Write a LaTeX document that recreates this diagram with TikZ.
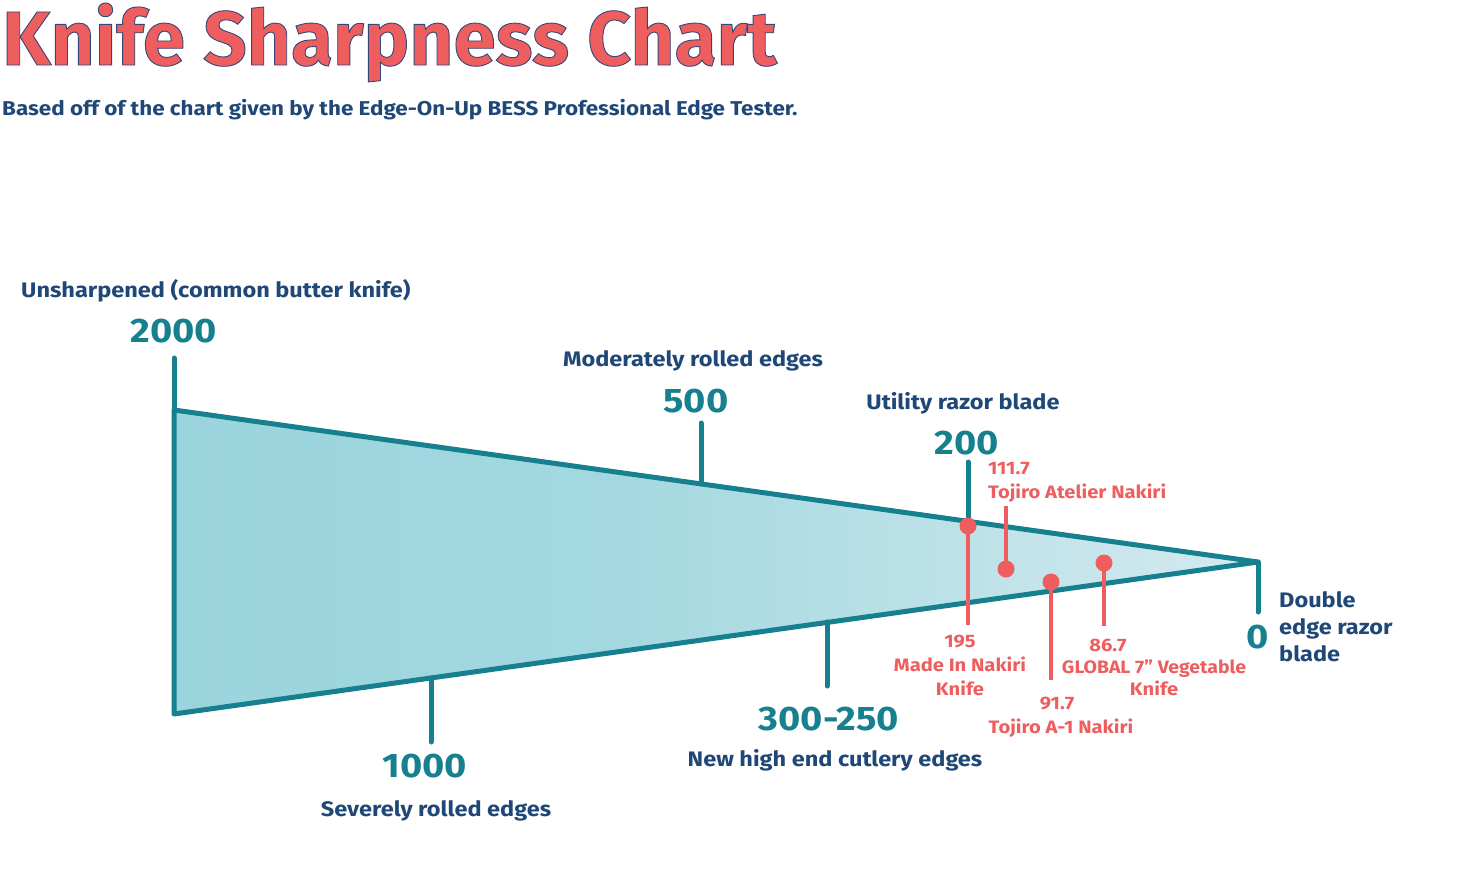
\documentclass[tikz,border=0pt]{standalone}
\usepackage{fontspec}
\setmainfont{Fira Sans}
\newfontfamily\widefont{Fira Sans}[FakeStretch=1.12]
\newfontfamily\widefontb{Fira Sans}[FakeStretch=1.08]
\definecolor{teal1}{HTML}{17808E}
\definecolor{navy1}{HTML}{1F4777}
\definecolor{coral1}{HTML}{EE5E5E}
\definecolor{g1}{HTML}{8FCFD9}
\definecolor{g2}{HTML}{A3D8E0}
\definecolor{g3}{HTML}{CFE8EE}
\definecolor{g4}{HTML}{EFF7F9}
\pgfdeclarehorizontalshading{knife}{100bp}{color(0bp)=(g1); color(45bp)=(g2); color(72bp)=(g3); color(100bp)=(g4)}
\tikzset{
  edge/.style={draw=teal1,line width=5pt,line cap=round,line join=round},
  tick/.style={draw=teal1,line width=5pt,line cap=round},
  pin/.style={draw=coral1,line width=4pt},
  dot/.style={circle,fill=coral1,inner sep=0pt,minimum size=17pt},
  desc/.style={text=navy1,font=\widefont\fontsize{21}{24}\selectfont\bfseries,anchor=base,inner sep=0pt},
  num/.style={text=teal1,font=\widefont\fontsize{34}{38}\selectfont\bfseries,anchor=base,inner sep=0pt},
  clab/.style={text=coral1,font=\widefont\fontsize{18}{24}\selectfont\bfseries,anchor=base,inner sep=0pt,align=center},
}
\begin{document}
\begin{tikzpicture}[x=1pt,y=-1pt]
\useasboundingbox (0,0) rectangle (1482,876);
% title
\node[anchor=base west,inner sep=0pt,text=coral1,font=\fontsize{76.5}{80}\selectfont\bfseries] (title) at (2,65) {\special{pdf:literal q 2 Tr 0.9 w 0.20 0.28 0.47 RG}Knife Sharpness Chart\special{pdf:literal Q}};
\node[anchor=base west,inner sep=0pt,text=navy1,font=\widefont\fontsize{20}{24}\selectfont\bfseries] (sub) at (2,115) {Based off of the chart given by the Edge-On-Up BESS Professional Edge Tester.};
% triangle
\coordinate (TL) at (174,410);
\coordinate (BL) at (174,714);
\coordinate (T) at (1258,562);
\shade[shading=knife] (TL) -- (T) -- (BL) -- cycle;
\draw[edge] (TL) -- (T) -- (BL) -- cycle;
% ticks
\coordinate (t2000) at (174,358);
\coordinate (t500a) at (701,484); \coordinate (t500b) at (701,423);
\coordinate (t200a) at (968,521); \coordinate (t200b) at (968,462);
\coordinate (t1000a) at (431,678); \coordinate (t1000b) at (431,742);
\coordinate (t300a) at (827,622); \coordinate (t300b) at (827,686);
\coordinate (t0b) at (1258,612);
\draw[tick] (TL) -- (t2000);
\draw[tick] (t500a) -- (t500b);
\draw[tick] (t200a) -- (t200b);
\draw[tick] (t1000a) -- (t1000b);
\draw[tick] (t300a) -- (t300b);
\draw[tick] (T) -- (t0b);
% labels
\node[desc,anchor=base west] (l2000d) at (21,297) {Unsharpened (common butter knife)};
\node[num] (l2000) at (174,342) {2000};
\node[desc] (l500d) at (693,366) {Moderately rolled edges};
\node[num] (l500) at (696,412) {500};
\node[desc] (l200d) at (963,409) {Utility razor blade};
\node[num] (l200) at (967,454) {200};
\node[num] (l1000) at (425,777) {1000};
\node[desc] (l1000d) at (436,816) {Severely rolled edges};
\node[num] (l300) at (829,730) {300-250};
\node[desc] (l300d) at (835,766) {New high end cutlery edges};
\node[num] (l0) at (1258,648) {0};
\node[desc,anchor=base west] (l0d1) at (1279,607) {Double};
\node[desc,anchor=base west] (l0d2) at (1279,634) {edge razor};
\node[desc,anchor=base west] (l0d3) at (1279,661) {blade};
% coral markers
\node[dot] (d195) at (968,526) {};
\coordinate (e195) at (968,625);
\draw[pin] (d195.center) -- (e195);
\node[clab] (c195a) at (960,647) {195};
\node[clab] (c195b) at (960,671) {Made In Nakiri};
\node[clab] (c195c) at (960,695) {Knife};

\node[dot] (d111) at (1006,569) {};
\coordinate (e111) at (1006,506);
\draw[pin] (d111.center) -- (e111);
\node[clab,anchor=base west] (c111a) at (988,474) {111.7};
\node[clab,anchor=base west] (c111b) at (988,498) {Tojiro Atelier Nakiri};

\node[dot] (d91) at (1051,582) {};
\coordinate (e91) at (1051,680);
\draw[pin] (d91.center) -- (e91);
\node[clab] (c91a) at (1057,709) {91.7};
\node[clab] (c91b) at (1061,733) {Tojiro A-1 Nakiri};

\node[dot] (d86) at (1104,563) {};
\coordinate (e86) at (1104,626);
\draw[pin] (d86.center) -- (e86);
\node[clab] (c86a) at (1108,651) {86.7};
\node[clab,font=\widefontb\fontsize{18}{24}\selectfont\bfseries] (c86b) at (1154,673) {GLOBAL 7” Vegetable};
\node[clab] (c86c) at (1154,695) {Knife};
\end{tikzpicture}
\end{document}
